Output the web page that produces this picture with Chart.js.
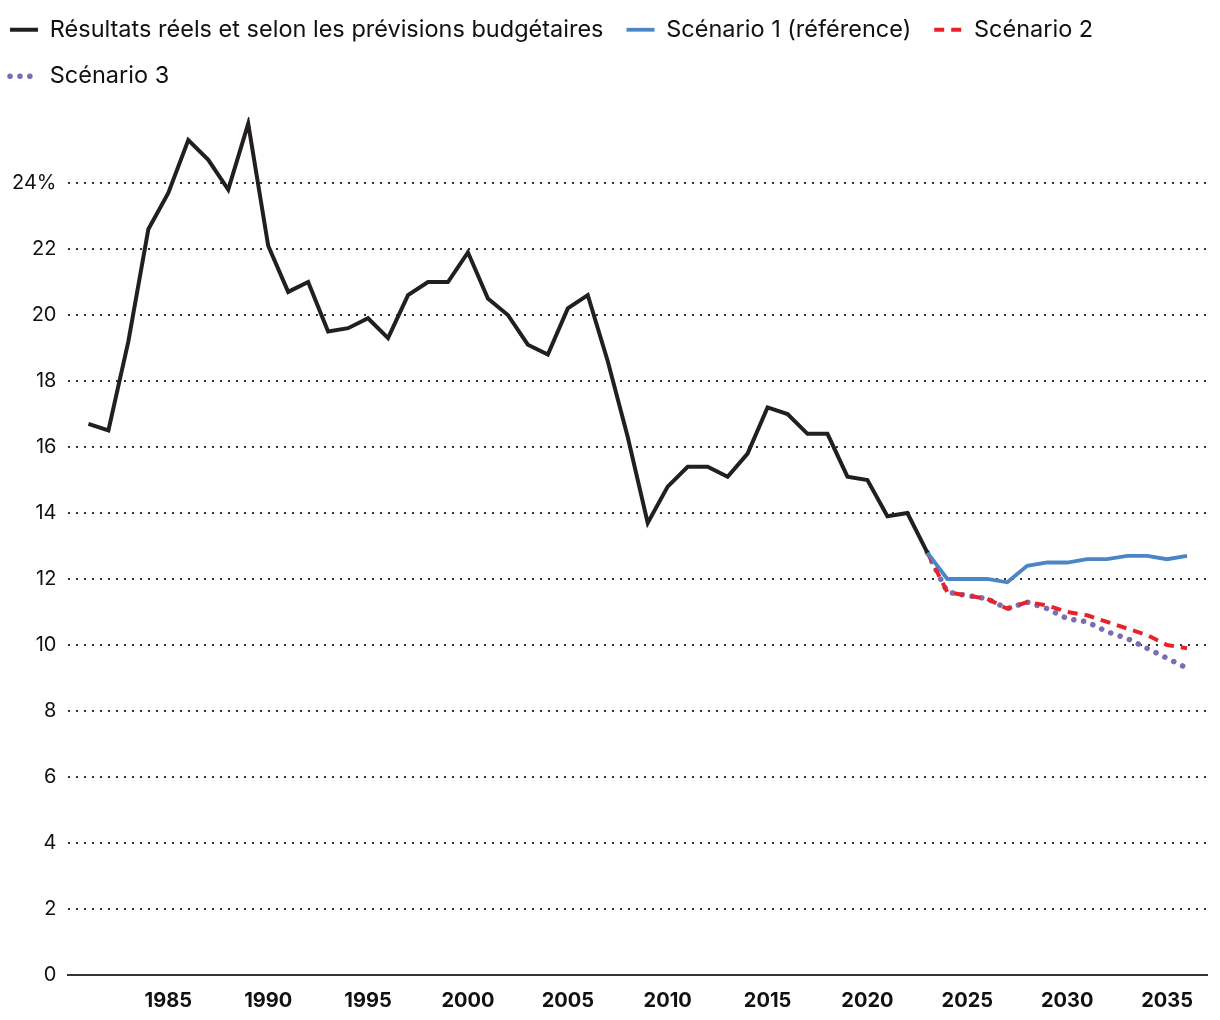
<!DOCTYPE html>
<html lang="fr">
<head>
  <meta charset="UTF-8" />
  <title>Résultats réels et scénarios</title>
  <script src="https://cdn.jsdelivr.net/npm/chart.js"></script>
  <style>
    html, body { margin: 0; padding: 0; background: #fff; }
    #wrap { width: 1220px; height: 1020px; }
  </style>
</head>
<body>
  <div id="wrap"><canvas id="chart" width="1220" height="1020"></canvas></div>

  <script>
    // historical values, 1981 - 2023
    const histYears = [];
    for (let y = 1981; y <= 2023; y++) histYears.push(y);
    const histValues = [16.7, 16.5, 19.2, 22.6, 23.7, 25.3, 24.7, 23.8, 25.8, 22.1,
      20.7, 21.0, 19.5, 19.6, 19.9, 19.3, 20.6, 21.0, 21.0, 21.9,
      20.5, 20.0, 19.1, 18.8, 20.2, 20.6, 18.6, 16.3, 13.7, 14.8,
      15.4, 15.4, 15.1, 15.8, 17.2, 17.0, 16.4, 16.4, 15.1, 15.0,
      13.9, 14.0, 12.8];

    // scenario values, 2023 - 2036
    const projYears = [];
    for (let y = 2023; y <= 2036; y++) projYears.push(y);
    const scenario1 = [12.8, 12.0, 12.0, 12.0, 11.9, 12.4, 12.5, 12.5, 12.6, 12.6, 12.7, 12.7, 12.6, 12.7];
    const scenario2 = [12.8, 11.6, 11.5, 11.4, 11.1, 11.3, 11.2, 11.0, 10.9, 10.7, 10.5, 10.3, 10.0, 9.9];
    const scenario3 = [12.8, 11.6, 11.5, 11.4, 11.1, 11.3, 11.1, 10.8, 10.7, 10.4, 10.2, 9.9, 9.6, 9.3];

    const seriesNames = ['Résultats réels et selon les prévisions budgétaires', 'Scénario 1 (référence)', 'Scénario 2', 'Scénario 3'];
    const yTicks = [0, 2, 4, 6, 8, 10, 12, 14, 16, 18, 20, 22, 24];
    const xTicks = [1985, 1990, 1995, 2000, 2005, 2010, 2015, 2020, 2025, 2030, 2035];

    const toPoints = (xs, ys) => xs.map((x, i) => ({ x, y: ys[i] }));
    const FONT = 'Inter, Roboto, sans-serif';
    const LEGEND_PAD = 23;

    new Chart(document.getElementById('chart'), {
      type: 'line',
      data: {
        datasets: [
          {
            label: seriesNames[0],
            data: toPoints(histYears, histValues),
            borderColor: '#231f20',
            backgroundColor: '#231f20',
            borderWidth: 4,
            pointStyle: 'line'
          },
          {
            label: seriesNames[1],
            data: toPoints(projYears, scenario1),
            borderColor: '#4a86c6',
            backgroundColor: '#4a86c6',
            borderWidth: 3.8,
            pointStyle: 'line'
          },
          {
            label: seriesNames[2],
            data: toPoints(projYears, scenario2),
            borderColor: '#e8212b',
            backgroundColor: '#e8212b',
            borderWidth: 4,
            borderDash: [10, 7],
            pointStyle: 'line'
          },
          {
            label: seriesNames[3],
            data: toPoints(projYears, scenario3),
            borderColor: '#7b6db3',
            backgroundColor: '#7b6db3',
            borderWidth: 5.5,
            borderDash: [0.1, 9.8],
            borderCapStyle: 'round',
            pointStyle: 'line'
          }
        ]
      },
      options: {
        responsive: false,
        animation: false,
        layout: { padding: { left: 0, right: 13, top: 14, bottom: -7 } },
        elements: {
          point: { radius: 0, hoverRadius: 0 },
          line: { tension: 0, fill: false }
        },
        plugins: {
          tooltip: { enabled: false },
          legend: {
            position: 'top',
            align: 'start',
            labels: {
              usePointStyle: true,
              pointStyleWidth: 28,
              boxHeight: 4,
              color: '#111',
              padding: LEGEND_PAD,
              font: { family: FONT, size: 23.5 },
              // keep each dataset's dash pattern in the legend sample
              generateLabels: chart => {
                const items = Chart.defaults.plugins.legend.labels.generateLabels(chart);
                return items.map(item => {
                  const ds = chart.data.datasets[item.datasetIndex];
                  item.lineDash = ds.borderDash || [];
                  item.lineCap = ds.borderCapStyle || 'butt';
                  item.lineWidth = ds.borderWidth;
                  return item;
                });
              }
            }
          }
        },
        scales: {
          x: {
            type: 'linear',
            min: 1980,
            max: 2037,
            afterBuildTicks: axis => { axis.ticks = xTicks.map(v => ({ value: v })); },
            grid: { display: false, drawTicks: false },
            border: { display: true, color: '#333', width: 2 },
            ticks: {
              padding: 14,
              color: '#111',
              font: { family: FONT, size: 20, weight: 'bold' },
              callback: v => String(v)
            }
          },
          y: {
            min: 0,
            max: 26,
            afterBuildTicks: axis => { axis.ticks = yTicks.map(v => ({ value: v })); },
            border: { display: false, dash: [2, 6] },
            grid: {
              drawTicks: false,
              color: ctx => ctx.tick && ctx.tick.value === 0 ? 'rgba(0,0,0,0)' : '#333',
              lineWidth: 2
            },
            ticks: {
              padding: 12,
              color: '#111',
              font: { family: FONT, size: 20 },
              callback: v => v === 24 ? '24%' : String(v)
            }
          }
        }
      },
      plugins: [{
        // nudge the legend to the top-left corner like the original
        id: 'legendNudge',
        beforeDraw: chart => {
          chart.legend.left = 10 - LEGEND_PAD;
          chart.legend.top = -5;
        }
      }]
    });
  </script>
</body>
</html>
